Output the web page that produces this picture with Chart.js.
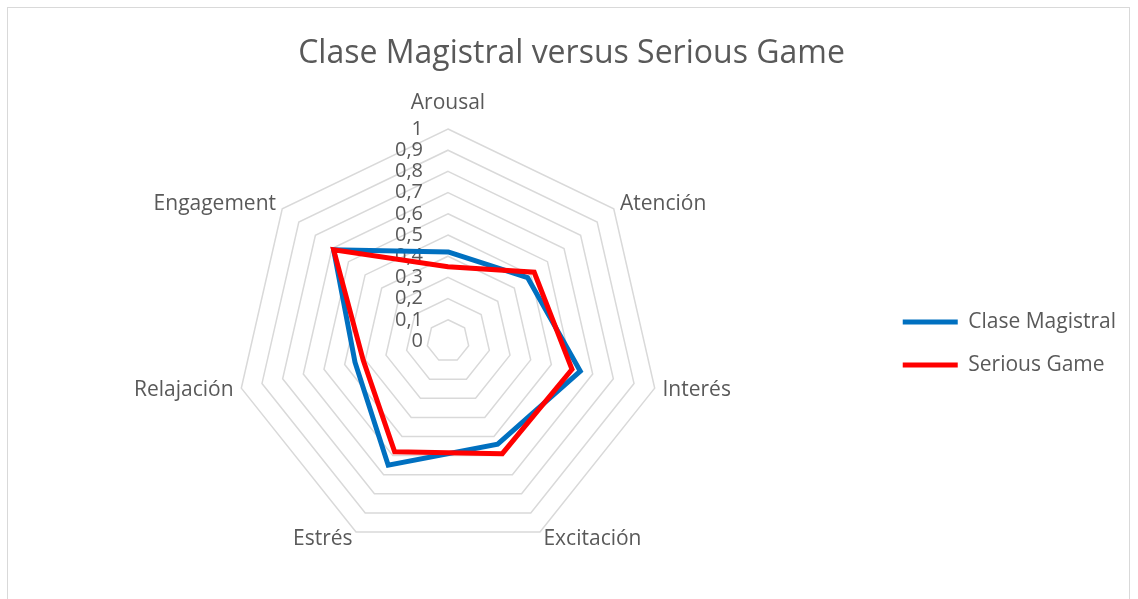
<!DOCTYPE html>
<html>
<head>
<meta charset="utf-8">
<script src="https://cdn.jsdelivr.net/npm/chart.js@4.4.1/dist/chart.umd.min.js"></script>
<style>
  html, body { margin: 0; padding: 0; background: #ffffff; }
  #wrap { position: relative; width: 1138px; height: 599px; overflow: hidden; }
  #frame { position: absolute; left: 7px; top: 7px; width: 1123px; height: 640px; border: 1px solid #d9d9d9; box-sizing: border-box; }
  canvas { position: absolute; left: 0; top: 0; }
</style>
</head>
<body>
<div id="wrap">
  <div id="frame"></div>
  <canvas id="c" width="1138" height="599"></canvas>
</div>
<script>
const categories = ["Arousal", "Atención", "Interés", "Excitación", "Estrés", "Relajación", "Engagement"];
const claseMagistral = [0.42, 0.48, 0.64, 0.54, 0.65, 0.45, 0.69];
const seriousGame = [0.35, 0.52, 0.60, 0.59, 0.58, 0.41, 0.69];
const tickLabels = ["0", "0,1", "0,2", "0,3", "0,4", "0,5", "0,6", "0,7", "0,8", "0,9", "1"];

const FONT = "'Open Sans', 'Noto Sans', sans-serif";
const GREY = "#595959";

const labelPlugin = {
  id: 'excelLabels',
  beforeDatasetsDraw(chart) {
    const s = chart.scales.r;
    const ctx = chart.ctx;
    ctx.save();
    ctx.font = "20px " + FONT;
    ctx.fillStyle = GREY;
    ctx.textAlign = 'right';
    ctx.textBaseline = 'middle';
    s.ticks.forEach((t, i) => {
      const d = s.getDistanceFromCenterForValue(t.value);
      ctx.fillText(tickLabels[i], s.xCenter - 25, s.yCenter - d);
    });
    ctx.restore();
  },
  afterDraw(chart) {
    const s = chart.scales.r;
    const ctx = chart.ctx;
    ctx.save();
    ctx.font = "21px " + FONT;
    ctx.fillStyle = GREY;
    ctx.textBaseline = 'middle';
    categories.forEach((lab, i) => {
      const p = s.getPointPosition(i, s.drawingArea + 8);
      let y = p.y;
      if (Math.abs(p.x - s.xCenter) < 2) {
        ctx.textAlign = 'center';
        y -= 18;
      } else {
        ctx.textAlign = p.x > s.xCenter ? 'left' : 'right';
      }
      ctx.fillText(lab, p.x, y);
    });
    ctx.restore();
  }
};

new Chart(document.getElementById('c'), {
  type: 'radar',
  data: {
    labels: categories,
    datasets: [
      { label: "Clase Magistral", data: claseMagistral, borderColor: "#0070C0", backgroundColor: "#0070C0",
        borderWidth: 5, fill: false, pointRadius: 0, pointHoverRadius: 0, order: 1, borderJoinStyle: 'miter' },
      { label: "Serious Game", data: seriousGame, borderColor: "#FF0000", backgroundColor: "#FF0000",
        borderWidth: 5, fill: false, pointRadius: 0, pointHoverRadius: 0, order: 0, borderJoinStyle: 'miter' }
    ]
  },
  options: {
    responsive: false,
    animation: false,
    layout: { padding: { left: 17, right: 12, top: 0, bottom: 46 } },
    elements: { line: { tension: 0 } },
    plugins: {
      title: { display: true, text: "Clase Magistral versus Serious Game", color: GREY,
               font: { family: FONT, size: 32, weight: 'normal' }, padding: { top: 35, bottom: 55.6 } },
      legend: { position: 'right', align: 'center',
                title: { display: true, text: '', font: { size: 10, lineHeight: 1.2 }, padding: { top: 122, bottom: 0 } },
                labels: { usePointStyle: true, pointStyle: 'line', pointStyleWidth: 55, color: GREY,
                          font: { family: FONT, size: 21 }, padding: 22,
                          sort: (a, b) => a.datasetIndex - b.datasetIndex },
                onClick: null },
      tooltip: { enabled: false }
    },
    scales: {
      r: {
        min: 0, max: 1,
        ticks: { stepSize: 0.1, display: false },
        grid: { color: "#d9d9d9", lineWidth: 1.5 },
        angleLines: { display: false },
        pointLabels: { display: false }
      }
    }
  },
  plugins: [labelPlugin]
});
</script>
</body>
</html>
